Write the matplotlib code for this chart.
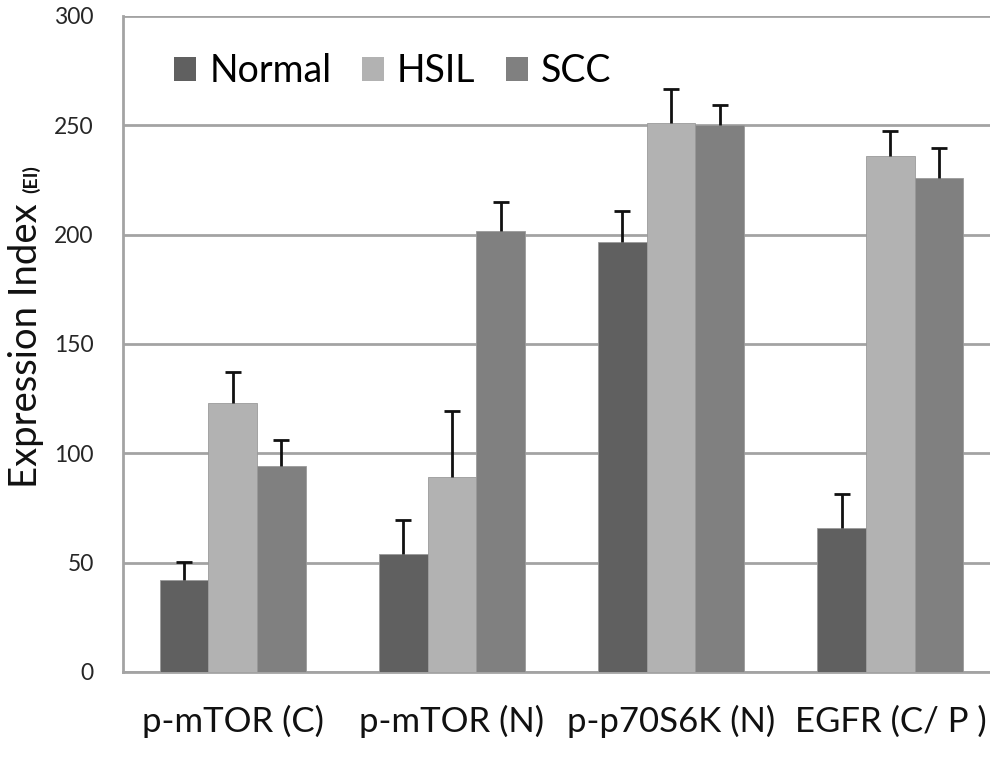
import numpy as np
import matplotlib
matplotlib.use('Agg')
import matplotlib.pyplot as plt
from matplotlib.patches import Patch

# data
markers = ['p-mTOR (C)', 'p-mTOR (N)', 'p-p70S6K (N)', 'EGFR (C/ P )']
groups = ['Normal', 'HSIL', 'SCC']
normal = [42, 54, 196.5, 66]
hsil = [123, 89, 251, 236]
scc = [94, 201.5, 250, 226]
normal_err = [8.5, 15.5, 14.5, 15.5]
hsil_err = [14, 30.5, 15.5, 11.5]
scc_err = [12, 13.5, 9.5, 13.5]
yticks = [0, 50, 100, 150, 200, 250, 300]

colors = ['#606060', '#b2b2b2', '#808080']
font = 'Lato'
plt.rcParams['font.family'] = [font, 'DejaVu Sans']

fig = plt.figure(figsize=(9.9, 7.57), dpi=100)
ax = fig.add_axes([123/990, 1-672/757, (1000-123)/990, (672-16)/757])

x = np.arange(len(markers))
w = 0.222
series = [normal, hsil, scc]
errs = [normal_err, hsil_err, scc_err]
for i in range(3):
    pos = x + (i-1)*w
    ax.bar(pos, series[i], width=w, color=colors[i], edgecolor='#9a9a9a',
           linewidth=0.6, zorder=3)
    eb = ax.errorbar(pos, series[i], yerr=[np.zeros(4), errs[i]], fmt='none',
                     ecolor='#111111', elinewidth=2, capsize=6, capthick=2, zorder=4)
    # only the upper cap is drawn in the original
    eb[1][0].set_visible(False)

ax.set_xlim(-0.5, 3.5)
ax.set_ylim(0, 300)
ax.set_yticks(yticks)
ax.set_xticks(x)
ax.set_xticklabels(markers, fontsize=25)
ax.tick_params(axis='both', length=0)
ax.tick_params(axis='y', labelsize=16.5, pad=21, labelcolor='#262626')
ax.tick_params(axis='x', pad=24, labelcolor='#111111')
ax.yaxis.grid(True, color='#a3a3a3', lw=2, zorder=0)
ax.set_axisbelow(True)
for s in ['top', 'right']:
    ax.spines[s].set_visible(False)
for s in ['left', 'bottom']:
    ax.spines[s].set_color('#a3a3a3')
    ax.spines[s].set_linewidth(2)

fig.text(26/990, 1-346/757, 'Expression Index', rotation=90, fontsize=27.5,
         ha='center', va='center', color='#111111')
fig.text(31/990, 1-179/757, '(EI)', rotation=90, fontsize=14, fontweight='bold',
         ha='center', va='center', color='#111111')

handles = [Patch(facecolor=c, edgecolor='none') for c in colors]
fig.legend(handles, groups, ncol=3, frameon=False, fontsize=27,
           loc='center left', bbox_to_anchor=(155/990, 1-71/757),
           bbox_transform=fig.transFigure, borderpad=0,
           handlelength=0.6, handleheight=0.6, handletextpad=0.35,
           columnspacing=0.8)

fig.savefig('out.png', dpi=100)
